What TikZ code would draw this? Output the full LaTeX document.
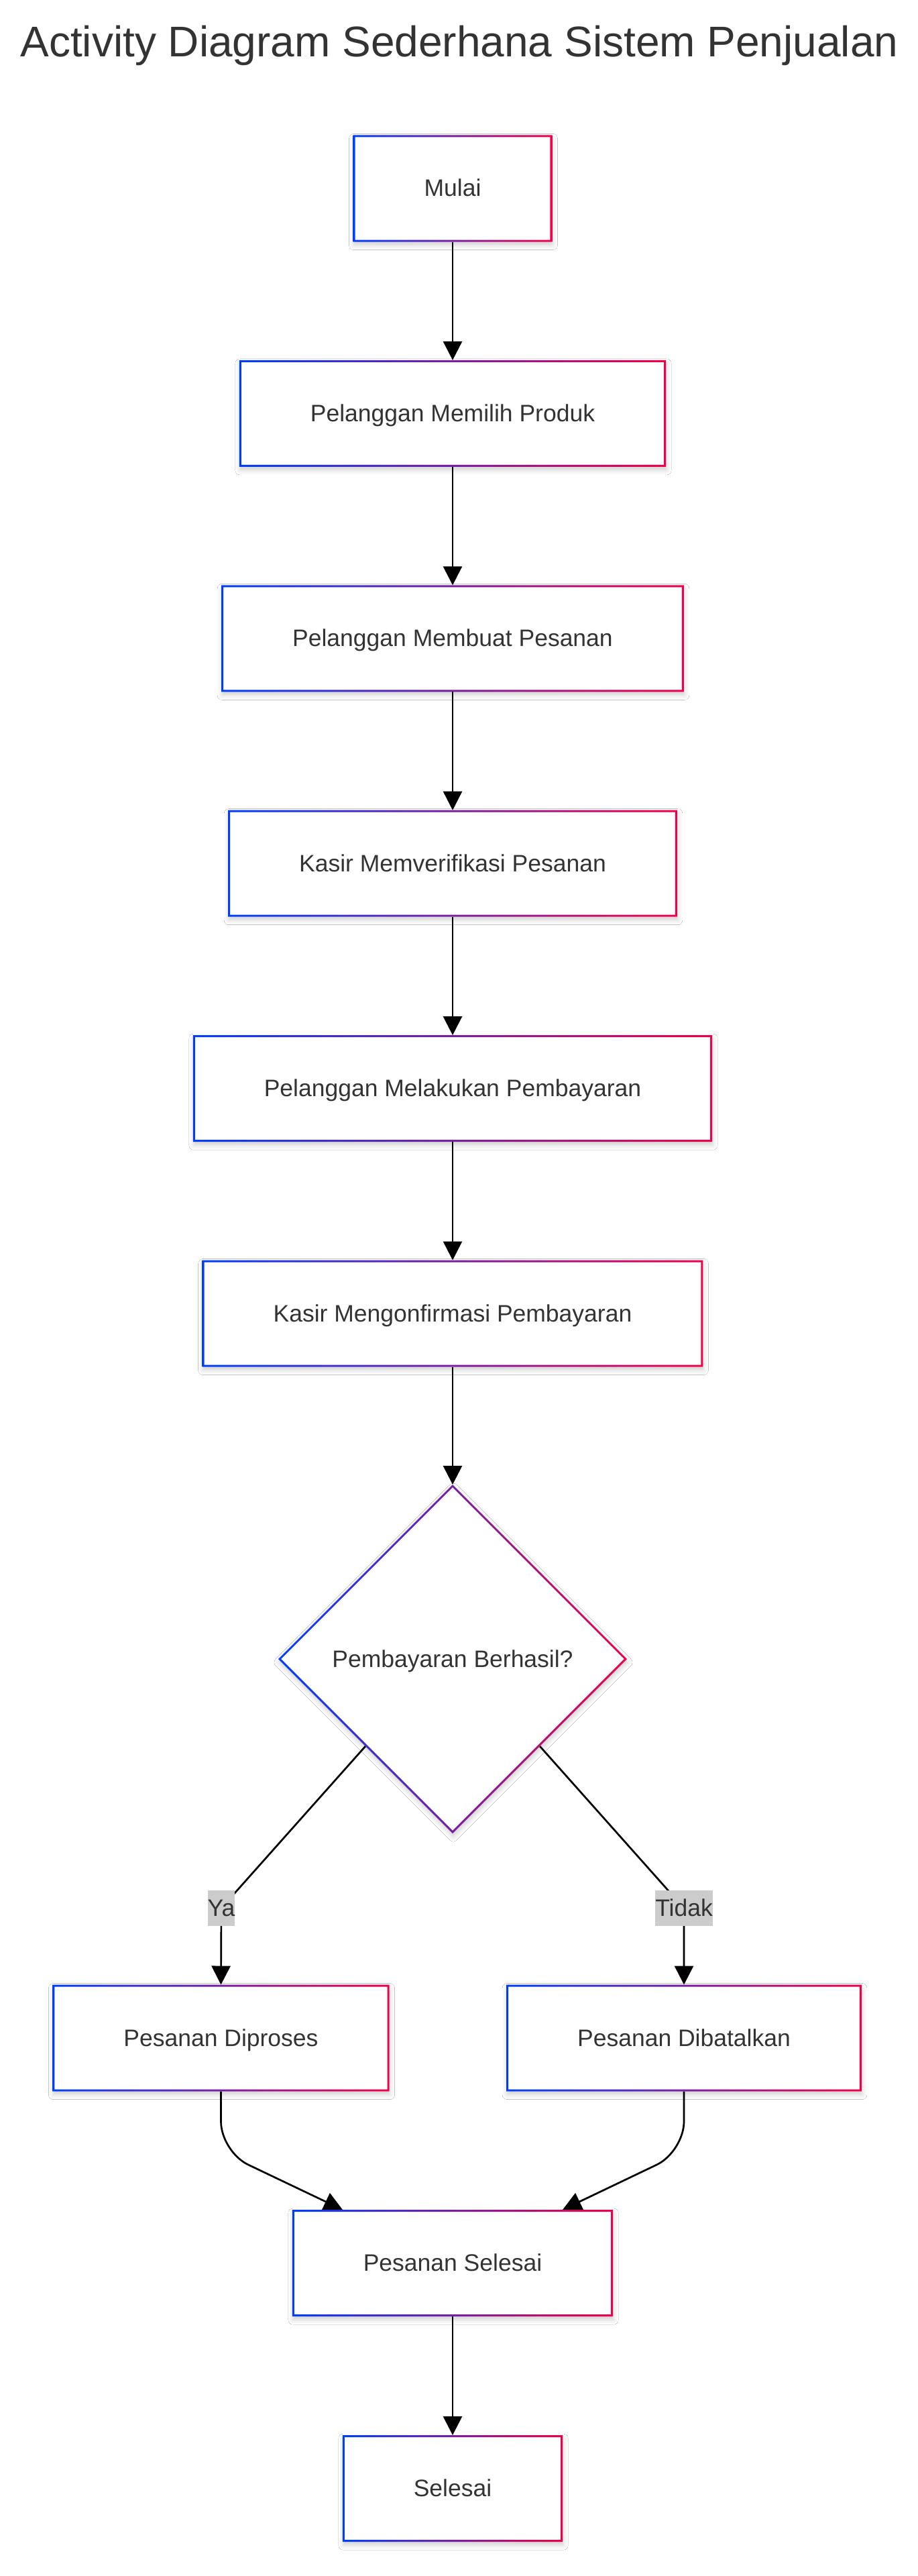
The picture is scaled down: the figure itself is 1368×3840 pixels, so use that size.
\documentclass[tikz,border=0pt]{standalone}
\usepackage{fontspec}
\setmainfont{Liberation Sans}
\usetikzlibrary{arrows.meta,shapes.geometric,shadows.blur,calc}
\definecolor{bl}{RGB}{0,62,250}
\definecolor{rd}{RGB}{240,0,72}
\definecolor{txt}{HTML}{333333}
\definecolor{lblbg}{HTML}{CCCCCC}
\newcommand\gring[1]{\shade[even odd rule,left color=bl,right color=rd]
  (#1.north west) rectangle (#1.south east)
  ($(#1.north west)+(3,3)$) rectangle ($(#1.south east)+(-3,-3)$);}
\begin{document}
\begin{tikzpicture}[x=1pt,y=-1pt,
  base/.style={fill=white,text=txt,font=\fontsize{35.5}{42}\selectfont,
    text height=24pt,text depth=0pt,outer sep=0pt,
    blur shadow={shadow xshift=1pt,shadow yshift=-5pt,shadow blur radius=7pt,shadow opacity=18}},
  act/.style={base,rectangle,inner xsep=106pt,inner ysep=0pt,minimum height=159pt},
  dec/.style={base,diamond,aspect=1,inner sep=0pt,minimum width=520pt,minimum height=520pt},
  lbl/.style={fill=lblbg,text=txt,font=\fontsize{35.5}{42}\selectfont,
    text height=24pt,text depth=0pt,inner xsep=0pt,inner ysep=0pt,minimum height=53pt},
  flow/.style={draw=black,line width=2.7pt,-{Triangle[length=28pt,width=28pt]}},
]
\useasboundingbox (0,0) rectangle (1368,3840);
\fill[white] (0,0) rectangle (1368,3840);

\node[font=\fontsize{64}{76}\selectfont,text=txt,anchor=base] (title) at (685,85) {Activity Diagram Sederhana Sistem Penjualan};

\node[act] (n1) at (675,281) {Mulai};
\node[act] (n2) at (675,616.4) {Pelanggan Memilih Produk};
\node[act] (n3) at (675,951.8) {Pelanggan Membuat Pesanan};
\node[act] (n4) at (675,1287.2) {Kasir Memverifikasi Pesanan};
\node[act] (n5) at (675,1622.6) {Pelanggan Melakukan Pembayaran};
\node[act] (n6) at (675,1958) {Kasir Mengonfirmasi Pembayaran};
\node[dec] (d) at (675,2473) {Pembayaran Berhasil?};
\node[act] (dp) at (329.5,3038) {Pesanan Diproses};
\node[act] (df) at (1020,3038) {Pesanan Dibatalkan};
\node[act] (ps) at (675,3373.5) {Pesanan Selesai};
\node[act] (sl) at (675,3709.5) {Selesai};

\coordinate (yac) at (330,2844.5);
\coordinate (tdc) at (1020,2844.5);
\coordinate (pl) at ($(ps.north)+(-164,0)$);
\coordinate (pr) at ($(ps.north)+(164,0)$);

\draw[flow] (n1) -- (n2);
\draw[flow] (n2) -- (n3);
\draw[flow] (n3) -- (n4);
\draw[flow] (n4) -- (n5);
\draw[flow] (n5) -- (n6);
\draw[flow] (n6) -- (d);
\draw[flow,rounded corners=20pt] (d.south west) -- (yac) -- (dp.north);
\draw[flow,rounded corners=20pt] (d.south east) -- (tdc) -- (df.north);
\draw[flow,rounded corners=45pt] (dp.south) -- ++(0,90) -- (pl);
\draw[flow,rounded corners=45pt] (df.south) -- ++(0,90) -- (pr);
\draw[flow] (ps) -- (sl);

\gring{n1}\gring{n2}\gring{n3}\gring{n4}\gring{n5}\gring{n6}
\gring{dp}\gring{df}\gring{ps}\gring{sl}
\shade[even odd rule,left color=bl,right color=rd]
  (d.north) -- (d.east) -- (d.south) -- (d.west) -- cycle
  ($(d.north)+(0,4.2)$) -- ($(d.east)+(-4.2,0)$) -- ($(d.south)+(0,-4.2)$) -- ($(d.west)+(4.2,0)$) -- cycle;

\node[lbl] (ya) at (yac) {Ya};
\node[lbl] (td) at (tdc) {Tidak};
\end{tikzpicture}
\end{document}
